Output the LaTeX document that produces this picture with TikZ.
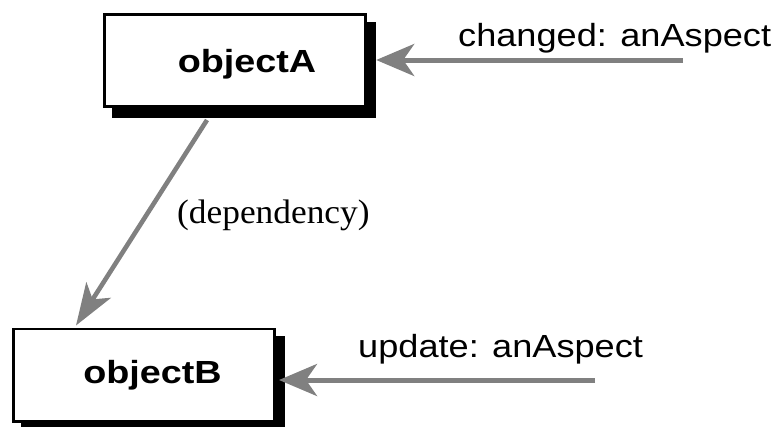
\documentclass[tikz,border=0pt]{standalone}
\usepackage{fontspec}
\newfontfamily\sfw[FakeStretch=1.18]{Liberation Sans}
\newfontfamily\sfm[FakeStretch=1.13]{Liberation Sans}
\newfontfamily\serw[FakeStretch=1.04]{Liberation Serif}
\usetikzlibrary{arrows.meta,calc}
\begin{document}
\begin{tikzpicture}[x=1pt,y=-1pt,
  objbox/.style={draw=black, line width=2.7pt, fill=white, minimum width=261.3pt, minimum height=92.3pt, inner sep=0pt},
  shadowbox/.style={fill=black, minimum width=264pt, minimum height=96pt, inner sep=0pt},
  msgarrow/.style={draw=gray, line width=5pt, -{Stealth[length=38pt,width=32pt,inset=11pt]}},
  deparrow/.style={draw=gray, line width=4.6pt, -{Stealth[length=42pt,width=29pt,inset=11pt]}},
  objtext/.style={font=\sfw\bfseries\fontsize{32}{38}\selectfont, inner sep=0pt, anchor=base},
  msgtext/.style={font=\sfm\fontsize{32}{38}\selectfont, inner sep=0pt, anchor=base west},
  deptext/.style={font=\serw\fontsize{34}{40}\selectfont, inner sep=0pt, anchor=base west}]
\useasboundingbox (0,0) rectangle (782,426);
% object A
\node[shadowbox] (As) at (244,70) {};
\node[objbox] (A) at (235,60.5) {};
\node[objtext] (At) at (247,72) {objectA};
% object B
\node[shadowbox] (Bs) at (153,384) {};
\node[objbox] (B) at (144,375) {};
\node[objtext] (Bt) at (152.5,383) {objectB};
% message to A
\coordinate (m1) at (683,60);
\draw[msgarrow] (m1) -- (m1 -| As.east);
\node[msgtext] (m1t) at (458,46) {changed: anAspect};
% message to B
\coordinate (m2) at (595,380);
\draw[msgarrow] (m2) -- ($(m2 -| B.east)+(3,0)$);
\node[msgtext] (m2t) at (358,357) {update: anAspect};
% dependency
\draw[deparrow] ($(A.south)+(-28,12)$) -- ($(B.north)+(-68,-2)$);
\node[deptext] (dep) at (177,223) {(dependency)};
\end{tikzpicture}
\end{document}
